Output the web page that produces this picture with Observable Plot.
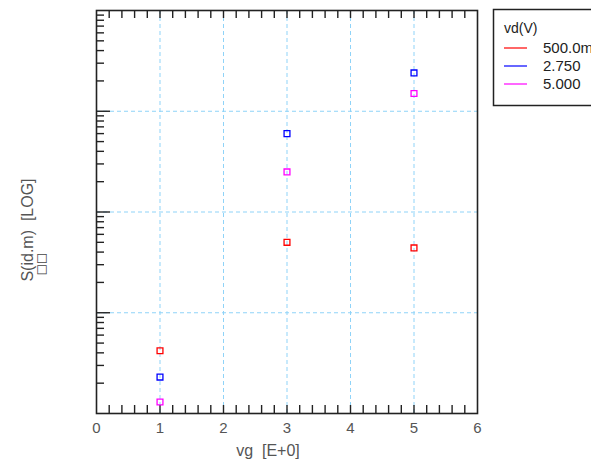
<!DOCTYPE html>
<html>
<head>
<meta charset="utf-8">
<script src="https://cdn.jsdelivr.net/npm/d3@7"></script>
<script src="https://cdn.jsdelivr.net/npm/@observablehq/plot@0.6"></script>
<style>
  html, body { margin: 0; padding: 0; background: #fff; }
  #chart svg { display: block; }
</style>
</head>
<body>
<div id="chart"></div>
<script>
// ---- data ----
const vg = [1, 3, 5];
const seriesNames = ["500.0m", "2.750", "5.000"];
const seriesColors = ["#ff0000", "#0000ff", "#ff00ff"];
const s500m = [4.2e-4, 5.0e-3, 4.4e-3];
const s2750 = [2.3e-4, 6.0e-2, 2.4e-1];
const s5000 = [1.3e-4, 2.5e-2, 1.5e-1];
const xTickLabels = [0, 1, 2, 3, 4, 5, 6];
const xGrid = [1, 2, 3, 4, 5];
const yDecades = [1e-4, 1e-3, 1e-2, 1e-1, 1];
const legendTitle = "vd(V)";
const xLabel = "vg  [E+0]";
const yLabel = "S(id.m)  [LOG]";

const seriesValues = [s500m, s2750, s5000];
const points = [];
seriesNames.forEach((name, i) => vg.forEach((x, j) => points.push({x, y: seriesValues[i][j], vd: name})));

const W = 591, H = 464;
const mL = 96, mR = 114, mT = 10, mB = 51;
const fw = W - mL - mR, fh = H - mT - mB;

const xMinor = d3.range(0, 6.0001, 0.2).map(v => +v.toFixed(2)).filter(v => v > 0 && v < 6);
const yMinor = [];
yDecades.slice(0, -1).forEach(d => { for (let k = 2; k <= 9; k++) yMinor.push(d * k); });
const yMajor = yDecades.slice(1, -1);

const grid = {stroke: "#8fd3f8", strokeOpacity: 1, strokeDasharray: "4,3", strokeWidth: 1};
const FONT = "'Liberation Sans', Arial, sans-serif";

const chart = Plot.plot({
  width: W, height: H,
  marginLeft: mL, marginRight: mR, marginTop: mT, marginBottom: mB,
  style: {fontFamily: FONT, fontSize: "15px", color: "#555", background: "#fff"},
  x: {domain: [0, 6], ticks: xTickLabels, tickFormat: d => String(d), tickSize: 0, tickPadding: 9, label: null},
  y: {type: "log", domain: [1e-4, 1], axis: null},
  color: {domain: seriesNames, range: seriesColors},
  marks: [
    Plot.gridX(xGrid, grid),
    Plot.gridY(yMajor, grid),
    Plot.tickX(xMinor, {x: d => d, insetTop: fh - 8, stroke: "#222", strokeWidth: 1.4}),
    Plot.tickX(xMinor, {x: d => d, insetBottom: fh - 8, stroke: "#222", strokeWidth: 1.4}),
    Plot.tickY(yMinor, {y: d => d, insetRight: fw - 8, stroke: "#222", strokeWidth: 1.4}),
    Plot.tickY(yMajor, {y: d => d, insetRight: fw - 14, stroke: "#222", strokeWidth: 1.4}),
    Plot.frame({stroke: "#222", strokeWidth: 1.6}),
    Plot.dot(points, {x: "x", y: "y", stroke: "vd", symbol: "square", r: 3.3, strokeWidth: 1.3, fill: "none"})
  ]
});

const svg = d3.select(chart);
function txt(parent, x, y, s, size, anchor, color, family) {
  return parent.append("text").attr("x", x).attr("y", y)
    .style("text-anchor", anchor).style("font-size", size + "px")
    .style("font-family", family || FONT).style("fill", color).text(s);
}
// axis labels
txt(svg, 268, 456, xLabel, 16, "middle", "#555");
txt(svg, 0, 0, yLabel, 16, "middle", "#555").attr("transform", "translate(33,230) rotate(-90)");
txt(svg, 0, 0, "\u25A1\u25A1", 12, "middle", "#444", "'DejaVu Sans', sans-serif").attr("transform", "translate(45,264) rotate(-90)");

// legend
const lg = svg.append("g");
lg.append("rect").attr("x", 493.5).attr("y", 9.5).attr("width", 120).attr("height", 96)
  .attr("fill", "#fff").attr("stroke", "#222").attr("stroke-width", 1.5);
txt(lg, 504, 33, legendTitle, 14, "start", "#222");
seriesNames.forEach((name, i) => {
  const y = 48 + i * 18;
  lg.append("line").attr("x1", 504).attr("x2", 527).attr("y1", y).attr("y2", y)
    .attr("stroke", seriesColors[i]).attr("stroke-width", 1.2);
  txt(lg, 543, y + 5, name, 15, "start", "#222");
});

document.getElementById("chart").appendChild(chart);
</script>
</body>
</html>
